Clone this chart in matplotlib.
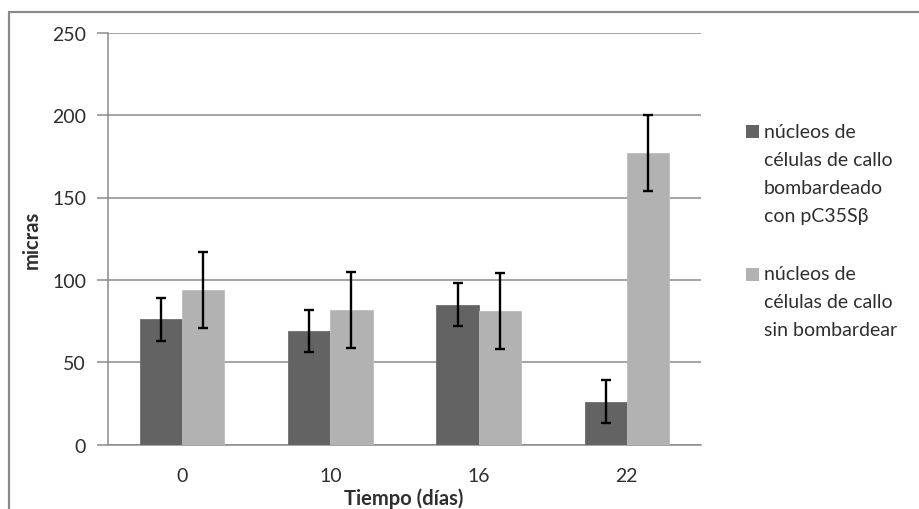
import matplotlib
matplotlib.use("Agg")
import matplotlib.pyplot as plt
from matplotlib.patches import Rectangle
import numpy as np

plt.rcParams['font.family'] = ['Lato', 'DejaVu Sans']

categories = ["0", "10", "16", "22"]
series_names = [
    "núcleos de\ncélulas de callo\nbombardeado\ncon pC35Sβ",
    "núcleos de\ncélulas de callo\nsin bombardear",
]
bombardeado = [76, 69, 85, 26]
bombardeado_err = [13, 13, 13, 13]
sin_bombardear = [94, 81.5, 81, 177]
sin_bombardear_err = [23, 23, 23, 23]
y_ticks = [0, 50, 100, 150, 200, 250]

colors = ["#636363", "#b2b2b2"]
text_color = "#2e2e2e"
grid_color = "#8c8c8c"

W, H = 920, 510
fig = plt.figure(figsize=(W / 100, H / 100), dpi=100)

# outer chart border
fig.add_artist(Rectangle((9 / W, -0.1), 1.2, (H - 13) / H + 0.1,
                         transform=fig.transFigure, fill=False,
                         edgecolor="#8a8a8a", linewidth=1.6))

ax = fig.add_axes([108.3 / W, 64.3 / H, 592.4 / W, 412 / H])

x = np.arange(len(categories))
bw = 0.284
ax.bar(x - bw / 2, bombardeado, bw, color=colors[0], zorder=3,
       edgecolor="#6e6e6e", linewidth=0.6)
ax.bar(x + bw / 2, sin_bombardear, bw, color=colors[1], zorder=3,
       edgecolor="#bdbdbd", linewidth=0.6)
ax.errorbar(x - bw / 2, bombardeado, yerr=bombardeado_err, fmt="none",
            ecolor="black", elinewidth=1.7, capsize=3.8, capthick=1.7, zorder=4)
ax.errorbar(x + bw / 2, sin_bombardear, yerr=sin_bombardear_err, fmt="none",
            ecolor="black", elinewidth=1.7, capsize=3.8, capthick=1.7, zorder=4)

ax.set_xlim(-0.5, len(categories) - 0.5)
ax.set_ylim(0, 250)
ax.set_yticks(y_ticks)
ax.set_xticks(x)
ax.set_xticklabels(categories)
ax.yaxis.grid(True, color=grid_color, linewidth=1.1, zorder=0)
ax.set_axisbelow(True)

for s in ["top", "right"]:
    ax.spines[s].set_visible(False)
for s in ["left", "bottom"]:
    ax.spines[s].set_color(grid_color)
    ax.spines[s].set_linewidth(1.1)

ax.tick_params(axis="y", length=8, color=grid_color, width=1.1,
               labelsize=14, labelcolor=text_color, pad=8)
ax.tick_params(axis="x", length=0, labelsize=14, labelcolor=text_color, pad=16)

fig.text(32 / W, 1 - 240 / H, "micras", rotation=90, ha="center", va="center",
         fontsize=14.5, fontweight="bold", color=text_color)
fig.text(404 / W, 1 - 499 / H, "Tiempo (días)", ha="center", va="center",
         fontsize=14.5, fontweight="bold", color=text_color)

# legend
line_h = 28
entries_top = [132.7, 275]
for name, col, ytop in zip(series_names, colors, entries_top):
    fig.add_artist(Rectangle((746 / W, 1 - (ytop + 6.5) / H), 13 / W, 13 / H,
                             transform=fig.transFigure, facecolor=col,
                             edgecolor="none"))
    for i, line in enumerate(name.split("\n")):
        fig.text(764 / W, 1 - (ytop + i * line_h) / H, line, ha="left",
                 va="center", fontsize=14, color=text_color)

fig.savefig("out.png", dpi=100)
